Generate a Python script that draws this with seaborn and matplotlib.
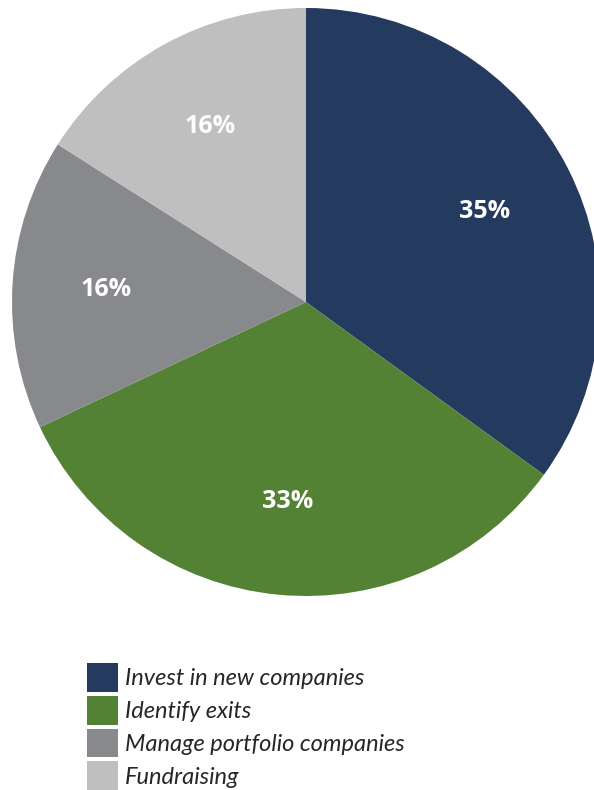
import matplotlib
matplotlib.use("Agg")
import matplotlib.pyplot as plt
import seaborn as sns
from matplotlib.patches import Patch

sns.set_theme(style="white")
plt.rcParams["font.family"] = ["Open Sans", "DejaVu Sans"]

categories = ["Invest in new companies", "Identify exits",
              "Manage portfolio companies", "Fundraising"]
shares = [35, 33, 16, 16]
colors = ["#243A5E", "#548235", "#88898D", "#BFBFBF"]

fig = plt.figure(figsize=(5.94, 7.90), dpi=100)
# square axes holding the pie; the right edge runs slightly past the canvas
ax = fig.add_axes([12 / 594, 1 - 596 / 790, 588 / 594, 588 / 790])

wedges, _, autotexts = ax.pie(
    shares, colors=colors, startangle=90, counterclock=False,
    autopct=lambda p: f"{p:.0f}%", pctdistance=0.68, radius=1.0,
    wedgeprops=dict(linewidth=0),
    textprops=dict(color="white", fontsize=18, fontweight="bold",
                   family=["Open Sans", "DejaVu Sans"]),
)
ax.set_xlim(-1, 1)
ax.set_ylim(-1, 1)
ax.set_aspect("equal")
ax.axis("off")

handles = [Patch(facecolor=c, edgecolor="none") for c in colors]
fs = 17
px = fs * 100 / 72
fig.legend(
    handles, categories, loc="upper left",
    bbox_to_anchor=(87 / 594, 1 - 663 / 790), bbox_transform=fig.transFigure,
    frameon=False, borderpad=0, borderaxespad=0,
    handlelength=31 / px, handleheight=1.5, handletextpad=7 / px,
    labelspacing=0.17,
    prop=dict(family=["Lato", "DejaVu Sans"], style="italic", size=fs),
)

fig.savefig("out.png", dpi=100)
